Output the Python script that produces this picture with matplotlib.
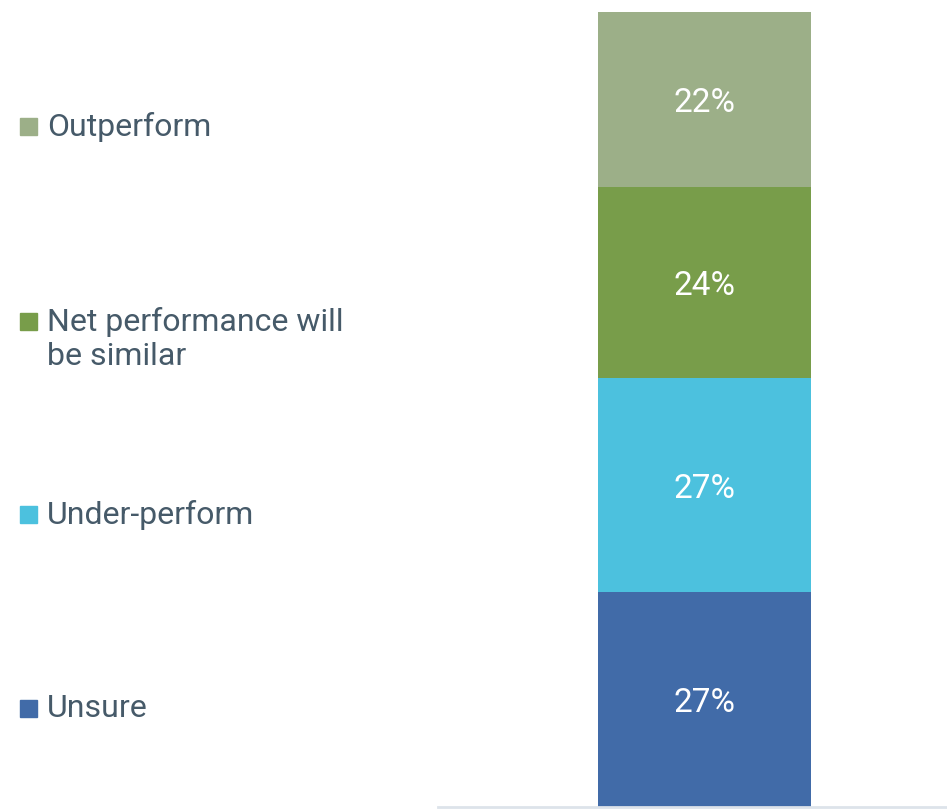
import matplotlib.pyplot as plt
from matplotlib.patches import Rectangle

# données
categories = ["Unsure", "Under-perform", "Net performance will\nbe similar", "Outperform"]
values = [27, 27, 24, 22]
colors = ["#416ba8", "#4cc1de", "#789d4a", "#9caf88"]
legend_y = [708, 514, 321, 126]   # pixel rows of legend entries (from top)

plt.rcParams["font.family"] = ["Roboto", "DejaVu Sans"]
text_color = "#465a69"

W, H = 947, 810
fig = plt.figure(figsize=(W / 100, H / 100), dpi=100)

ax = fig.add_axes([438 / W, 3 / H, 509 / W, 795 / H])
bottom = 0
for v, c in zip(values, colors):
    ax.bar(0.5236, v, width=0.4185, bottom=bottom, color=c)
    ax.text(0.5236, bottom + v / 2, f"{v}%", ha="center", va="center_baseline",
            color="white", fontsize=24)
    bottom += v

ax.set_xlim(0, 1)
ax.set_ylim(0, sum(values))
for s in ["top", "left", "right"]:
    ax.spines[s].set_visible(False)
ax.spines["bottom"].set_color("#dde3ea")
ax.spines["bottom"].set_linewidth(2)
ax.set_xticks([])
ax.set_yticks([])

# légende à gauche
for cat, c, yp in zip(categories, colors, legend_y):
    fig.patches.append(Rectangle((20 / W, 1 - (yp + 9) / H), 17 / W, 17 / H,
                                 transform=fig.transFigure, color=c))
    fig.text(47 / W, 1 - (yp - 14) / H, cat, ha="left", va="top",
             color=text_color, fontsize=23, linespacing=1.2)

fig.savefig("out.png", dpi=100)
